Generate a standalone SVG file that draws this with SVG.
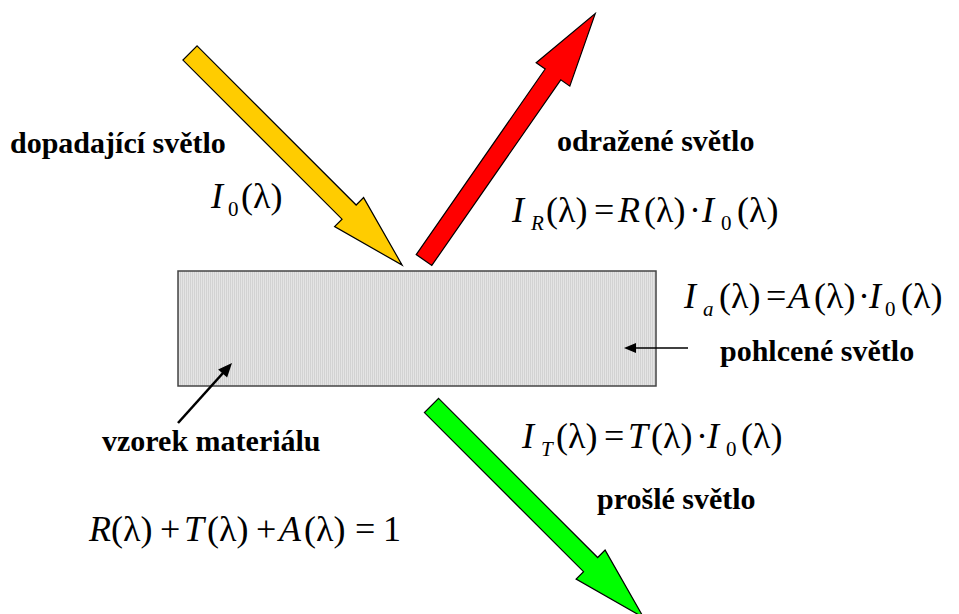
<svg xmlns="http://www.w3.org/2000/svg" width="959" height="614" viewBox="0 0 959 614">
<defs>
<pattern id="stripes" width="2" height="4" patternUnits="userSpaceOnUse">
<rect width="2" height="4" fill="#e4e4e4"/>
<rect width="1" height="4" fill="#d2d2d2"/>
</pattern>
</defs>
<rect width="959" height="614" fill="#fff"/>
<g id="sample">
<rect x="178" y="271" width="478" height="115" fill="url(#stripes)" stroke="#444" stroke-width="1.5"/>
</g>
<g id="connectors">
<g id="incident-arrow"><path fill="#FFCC00" stroke="#000" stroke-width="1.2" transform="translate(190,53) rotate(45)" d="M0,-10 H225 V-20.5 L300,0 L225,20.5 V10 H0 Z"/></g>
<g id="reflected-arrow"><path fill="#FF0000" stroke="#000" stroke-width="1.2" transform="translate(424,260) rotate(-55.2)" d="M0,-9.5 H226 V-20.5 L300,0 L226,20.5 V9.5 H0 Z"/></g>
<g id="transmitted-arrow"><path fill="#00FF00" stroke="#000" stroke-width="1.2" transform="translate(431.5,405.5) rotate(45)" d="M0,-10 H225 V-20.5 L300,0 L225,20.5 V10 H0 Z"/></g>
<g id="sample-pointer"><line x1="178" y1="423" x2="223" y2="373" stroke="#000" stroke-width="2.6"/><polygon points="232,363 227.1,377.4 218.1,369.4" fill="#000"/></g>
<g id="absorbed-pointer"><line x1="688" y1="348" x2="633" y2="348" stroke="#000" stroke-width="1.3"/><polygon points="624,348 636,343 636,353" fill="#000"/></g>
</g>
<g id="label-incident">
<text x="10" y="153" font-family="Liberation Serif" font-weight="bold" font-size="30">dopadající světlo</text>
<text y="208" font-family="Liberation Serif" font-size="36"><tspan x="211" font-style="italic">I</tspan><tspan x="228" y="216" font-size="21">0</tspan><tspan x="241" y="208">(λ)</tspan></text>
</g>
<g id="label-reflected">
<text x="557" y="151" font-family="Liberation Serif" font-weight="bold" font-size="30">odražené světlo</text>
<text y="222" font-family="Liberation Serif" font-size="36"><tspan x="512" font-style="italic">I</tspan><tspan x="531" y="230" font-size="21" font-style="italic">R</tspan><tspan x="546" y="222">(λ)</tspan><tspan x="594">=</tspan><tspan x="618" font-style="italic">R</tspan><tspan x="644">(λ)</tspan><tspan x="689">·</tspan><tspan x="702" font-style="italic">I</tspan><tspan x="721" y="230" font-size="21">0</tspan><tspan x="737" y="222">(λ)</tspan></text>
</g>
<g id="label-absorbed">
<text y="308" font-family="Liberation Serif" font-size="36"><tspan x="684" font-style="italic">I</tspan><tspan x="703" y="316" font-size="21" font-style="italic">a</tspan><tspan x="719" y="308">(λ)</tspan><tspan x="766">=</tspan><tspan x="788" font-style="italic">A</tspan><tspan x="814">(λ)</tspan><tspan x="858">·</tspan><tspan x="869" font-style="italic">I</tspan><tspan x="885" y="316" font-size="21">0</tspan><tspan x="901" y="308">(λ)</tspan></text>
<text x="720" y="361" font-family="Liberation Serif" font-weight="bold" font-size="30">pohlcené světlo</text>
</g>
<g id="label-sample">
<text x="102" y="451" font-family="Liberation Serif" font-weight="bold" font-size="30">vzorek materiálu</text>
</g>
<g id="label-transmitted">
<text y="448" font-family="Liberation Serif" font-size="36"><tspan x="522" font-style="italic">I</tspan><tspan x="541" y="456" font-size="21" font-style="italic">T</tspan><tspan x="556" y="448">(λ)</tspan><tspan x="604">=</tspan><tspan x="628" font-style="italic">T</tspan><tspan x="651">(λ)</tspan><tspan x="696">·</tspan><tspan x="707" font-style="italic">I</tspan><tspan x="726" y="456" font-size="21">0</tspan><tspan x="741" y="448">(λ)</tspan></text>
<text x="597" y="509" font-family="Liberation Serif" font-weight="bold" font-size="30">prošlé světlo</text>
</g>
<g id="balance">
<text y="541" font-family="Liberation Serif" font-size="36"><tspan x="89" font-style="italic">R</tspan><tspan x="111">(λ)</tspan><tspan x="160">+</tspan><tspan x="184" font-style="italic">T</tspan><tspan x="207">(λ)</tspan><tspan x="256">+</tspan><tspan x="279" font-style="italic">A</tspan><tspan x="304">(λ)</tspan><tspan x="355">=</tspan><tspan x="383">1</tspan></text>
</g>
</svg>
